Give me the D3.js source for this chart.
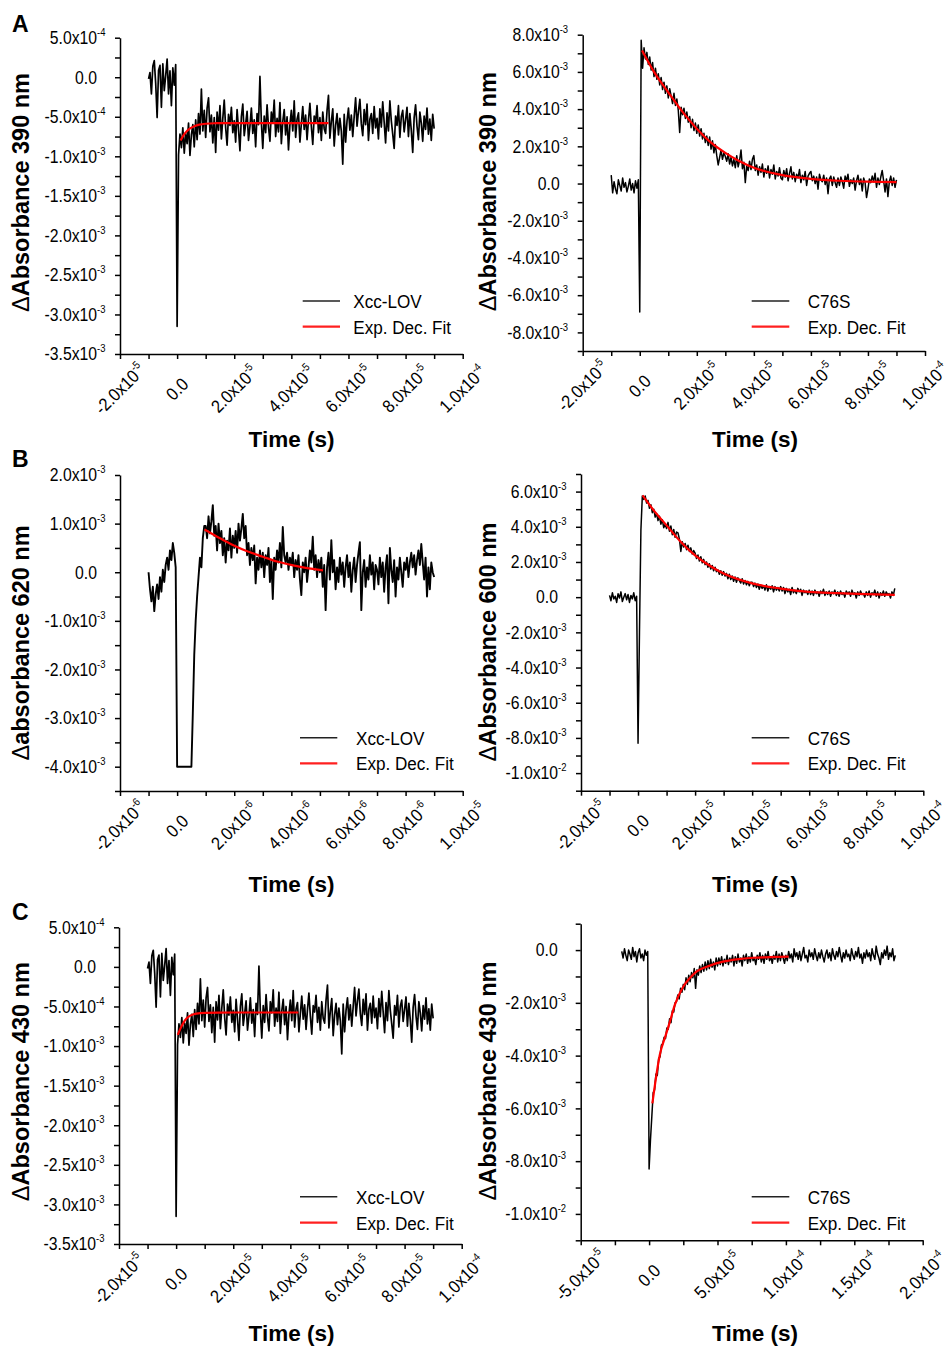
<!DOCTYPE html>
<html>
<head>
<meta charset="utf-8">
<script src="https://cdn.jsdelivr.net/npm/d3@7"></script>
<style>
  body { margin: 0; background: #fff; }
  svg text { font-family: "Liberation Sans", Arial, Helvetica, sans-serif; fill: #000; }
</style>
</head>
<body>
<svg id="fig" width="952" height="1348"></svg>
<script>

// ---- tick values ----
const timeTicks20us = [-2e-5, 0, 2e-5, 4e-5, 6e-5, 8e-5, 1e-4];
const timeTicks2us = [-2e-6, 0, 2e-6, 4e-6, 6e-6, 8e-6, 1e-5];
const timeTicks50us = [-5e-5, 0, 5e-5, 1e-4, 1.5e-4, 2e-4];
const absTicksXcc = [5e-4, 0, -5e-4, -1e-3, -1.5e-3, -2e-3, -2.5e-3, -3e-3, -3.5e-3];
const absTicksC76S390 = [8e-3, 6e-3, 4e-3, 2e-3, 0, -2e-3, -4e-3, -6e-3, -8e-3];
const absTicksXcc620 = [2e-3, 1e-3, 0, -1e-3, -2e-3, -3e-3, -4e-3];
const absTicksC76S600 = [6e-3, 4e-3, 2e-3, 0, -2e-3, -4e-3, -6e-3, -8e-3, -1e-2];
const absTicksC76S430 = [0, -2e-3, -4e-3, -6e-3, -8e-3, -1e-2];

// ---- Xcc-LOV trace, 390 nm (A) and 430 nm (C), units 1e-4 ----
const xccLovStart = -1.0e-5, xccLovStep = 0.05e-5;
const xccLovTrace = [
  -0.2, 0.6, -2.1, 1.4, 2.1, -0.8, -5.1, 0.9, 1.5, -3.8, 1.7, -1.7, 0.2, 2.3, -2.1, 0.8, -3.6, 1.2, -1.0, 1.6,
  -31.5, -9.8, -7.2, -8.9, -6.4, -9.6, -7.1, -8.4, -5.8, -9.9, -7.3, -6.0, -8.8, -5.4, -7.9, -4.6, -7.2, -1.5, -6.8, -4.2,
  -7.6, -3.9, -2.6, -6.9, -4.8, -8.3, -5.1, -9.5, -4.4, -6.7, -3.6, -7.8, -5.2, -2.9, -6.4, -8.6, -4.7, -6.1, -3.8, -7.0,
  -5.5, -8.2, -4.1, -6.6, -9.3, -5.0, -3.4, -7.4, -5.9, -4.3, -8.0, -6.2, -3.9, -7.1, -5.4, -8.8, -4.6, -6.0, 0.1, -5.7,
  -9.0, -4.9, -7.0, -3.5, -6.3, -8.1, -4.4, -5.8, -2.9, -7.5, -5.2, -6.9, -3.2, -8.4, -5.6, -4.1, -7.3, -5.0, -9.2, -6.0,
  -4.2, -6.8, -3.0, -7.6, -5.3, -4.5, -8.2, -5.9, -3.7, -6.6, -4.8, -7.9, -5.4, -3.3, -6.2, -8.5, -4.9, -5.7, -3.6, -7.0,
  -5.1, -8.0, -4.4, -6.5, -7.1, -4.2, -2.3, -7.7, -5.6, -4.0, -8.7, -6.1, -4.6, -7.3, -5.2, -6.8, -11.0, -4.7, -8.2, -5.5,
  -3.9, -6.7, -4.8, -7.5, -5.0, -2.6, -6.2, -4.3, -2.8, -5.9, -7.4, -4.1, -6.0, -3.4, -8.0, -5.3, -4.6, -7.1, -3.7, -6.4,
  -5.2, -7.8, -4.0, -6.3, -3.1, -5.7, -8.3, -4.5, -6.8, -3.0, -5.5, -7.2, -9.0, -4.9, -6.1, -3.6, -7.6, -5.0, -4.2, -6.9,
  -5.4, -3.8, -7.5, -4.6, -6.7, -9.5, -5.1, -3.5, -6.2, -7.9, -4.4, -5.8, -8.1, -4.9, -6.6, -3.9, -7.2, -5.3, -8.0, -4.7,
  -6.5
];
const xccLov390FitT = [0.12, 0.25, 0.44, 0.6, 0.78, 1.0, 1.3, 2.0, 3.0, 5.3];          // 1e-5 s
const xccLov390FitV = [-8.0, -7.2, -6.5, -6.2, -6.0, -5.88, -5.82, -5.8, -5.8, -5.8];  // 1e-4
const xccLov430FitT = [0.06, 0.15, 0.25, 0.37, 0.5, 0.72, 1.0, 1.5, 2.5, 4.28];
const xccLov430FitV = [-8.6, -7.8, -7.1, -6.5, -6.15, -5.9, -5.8, -5.77, -5.76, -5.76];

// ---- Xcc-LOV trace, 620 nm (B), units 1e-3 ----
const xccLov620Start = -1.0e-6, xccLov620Step = 0.05e-6;
const xccLov620Trace = [
  0.0, -0.35, -0.6, -0.3, -0.8, -0.45, -0.25, -0.55, -0.1, -0.4, 0.05, -0.2, 0.15, 0.3, 0.05, 0.45, 0.25, 0.6, 0.4, 0.1,
  -4.0, -4.0, -4.0, -4.0, -4.0, -4.0, -4.0, -4.0, -4.0, -4.0, -4.0, -2.9, -1.7, -1.0, -0.5, -0.1, 0.3, 0.1, 0.7, 0.95,
  0.95, 0.7, 1.15, 0.8, 1.05, 1.38, 0.75, 0.95, 0.45, 1.0, 0.6, 0.85, 0.35, 0.7, 0.2, 0.65, 0.45, 0.9, 0.3, 0.75,
  0.5, 0.85, 0.4, 1.0, 0.65, 0.9, 1.2, 0.7, 0.95, 0.35, 0.6, 0.15, 0.5, 0.25, 0.55, -0.23, 0.3, 0.05, 0.45, 0.1,
  0.4, -0.1, 0.35, 0.15, 0.5, -0.2, 0.25, -0.55, 0.3, 0.05, 0.45, 0.2, 0.6, 0.1, 0.93, 0.35, 0.2, 0.4, 0.05, 0.3,
  0.15, 0.4, -0.1, 0.25, 0.05, 0.35, -0.15, -0.47, 0.2, 0.0, 0.3, -0.2, 0.1, 0.45, 0.2, 0.73, 0.05, 0.35, -0.1, 0.25,
  0.0, 0.3, -0.3, 0.15, -0.78, 0.1, 0.4, -0.15, 0.66, 0.0, 0.25, -0.35, 0.1, -0.2, 0.3, -0.05, 0.2, -0.3, 0.1, 0.35,
  -0.1, 0.2, -0.4, 0.05, 0.3, -0.2, 0.15, 0.4, 0.62, -0.78, 0.0, 0.25, -0.3, 0.1, -0.15, 0.35, -0.05, 0.2, -0.35, 0.15,
  0.05, -0.25, 0.3, -0.1, 0.2, -0.4, 0.1, 0.35, -0.64, 0.5, 0.05, -0.2, 0.25, -0.5, 0.1, -0.15, 0.3, 0.0, -0.3, 0.2,
  0.05, 0.3, -0.1, 0.2, 0.4, 0.1, 0.35, -0.05, 0.25, 0.45, 0.15, 0.58, 0.2, -0.15, 0.3, -0.5, 0.1, -0.35, 0.2, 0.0,
  -0.1
];
const xccLov620FitT = [0.96, 1.5, 1.95, 2.5, 3.0, 3.5, 4.06, 4.5, 5.11];          // 1e-6 s
const xccLov620FitV = [0.88, 0.7, 0.56, 0.42, 0.32, 0.22, 0.14, 0.09, 0.04];      // 1e-3

// ---- C76S trace, 390 nm (A), units 1e-3 ----
const c76s390Start = -1.0e-5, c76s390Step = 0.05e-5;
const c76s390Trace = [
  0.45, -0.5, 0.1, -0.3, -0.55, 0.2, -0.1, -0.4, 0.3, -0.2, 0.05, -0.45, -0.15, 0.25, -0.35, 0.0, -0.5, 0.15, -0.25, 0.2,
  -6.9, 7.7, 6.2, 7.3, 6.7, 7.05, 6.4, 6.8, 6.1, 6.5, 5.75, 6.2, 5.6, 5.9, 5.3, 5.7, 5.05, 5.45, 4.85, 5.25,
  4.6, 5.1, 4.7, 4.3, 4.85, 4.2, 4.55, 3.95, 2.75, 4.1, 3.7, 4.05, 3.5, 3.85, 3.3, 3.6, 3.0, 3.45, 2.85, 3.25,
  2.7, 3.15, 2.55, 2.95, 2.4, 2.7, 2.2, 2.55, 2.05, 2.5, 1.85, 2.3, 1.65, 2.1, 1.5, 1.0, 1.4, 1.8, 1.3, 1.65,
  1.45, 1.2, 1.6, 1.05, 1.4, 0.95, 1.3, 0.85, 1.5, 0.9, 1.25, 1.8, 0.8, 1.15, 0.05, 0.95, 0.7, 1.2, 0.75, 1.3,
  1.5, 0.7, 1.0, 0.45, 0.9, 0.6, 1.05, 0.35, 0.8, 0.55, 0.95, 0.3, 0.75, 0.5, 1.0, 0.25, 0.65, 0.4, 0.85, 0.3,
  0.2, 0.7, 0.35, 0.8, 0.15, 0.55, 0.9, 0.25, 0.6, 0.1, 0.5, 0.3, 0.75, 0.05, 0.45, 0.2, 0.65, -0.1, 0.4, 0.55,
  0.65, 0.15, 0.4, 0.0, 0.35, -0.3, 0.5, 0.2, 0.1, 0.45, -0.05, 0.3, -0.55, 0.25, 0.4, -0.1, 0.35, 0.05, -0.2, 0.3,
  -0.1, 0.35, 0.1, -0.25, 0.4, 0.15, 0.5, -0.15, 0.2, 0.0, 0.3, -0.35, 0.15, 0.45, -0.05, 0.25, -0.4, 0.3, 0.05, -0.75,
  -0.3, 0.25, 0.05, 0.4, 0.1, 0.55, -0.2, 0.3, -0.05, 0.35, 0.7, 0.15, -0.45, 0.25, -0.7, 0.1, 0.4, -0.1, 0.3, -0.2,
  0.2
];
const c76s390FitT = [0.08, 0.5, 1, 1.5, 2, 2.5, 3, 3.5, 4, 5, 6, 7, 8, 9];               // 1e-5 s
const c76s390FitV = [7.15, 6.0, 4.9, 3.85, 2.95, 2.2, 1.65, 1.2, 0.85, 0.45, 0.25, 0.15, 0.1, 0.08]; // 1e-3

// ---- C76S trace, 600 nm (B), units 1e-3 ----
const c76s600Start = -1.0e-5, c76s600Step = 0.05e-5;
const c76s600Trace = [
  0.1, -0.2, 0.25, -0.1, 0.05, -0.3, 0.2, -0.05, 0.3, -0.25, 0.0, 0.2, -0.15, 0.15, -0.3, 0.1, -0.1, 0.25, -0.2, 0.05,
  -8.3, -2.0, 3.8, 5.75, 5.55, 5.75, 5.35, 5.5, 5.05, 5.25, 4.8, 5.0, 4.55, 4.75, 4.35, 4.6, 4.15, 4.4, 3.95, 4.15,
  3.9, 4.25, 3.75, 4.05, 3.55, 3.85, 3.4, 3.7, 3.65, 3.3, 2.6, 3.15, 2.85, 3.05, 2.7, 2.95, 2.6, 2.8, 2.45, 2.65,
  2.5, 2.2, 2.4, 2.05, 2.3, 1.95, 2.15, 1.85, 2.0, 1.7, 1.9, 1.6, 1.8, 1.5, 1.7, 1.45, 1.55, 1.3, 1.5, 1.25,
  1.45, 1.2, 1.35, 1.05, 1.3, 1.0, 1.2, 0.9, 1.15, 0.85, 1.1, 0.95, 0.8, 1.05, 0.75, 0.95, 0.7, 0.9, 0.65, 0.85,
  0.85, 0.6, 0.8, 0.55, 0.75, 0.45, 0.7, 0.5, 0.65, 0.4, 0.7, 0.35, 0.6, 0.45, 0.65, 0.3, 0.6, 0.4, 0.55, 0.35,
  0.6, 0.35, 0.55, 0.2, 0.5, 0.3, 0.45, 0.15, 0.55, 0.25, 0.4, 0.2, 0.5, 0.3, 0.45, 0.1, 0.4, 0.25, 0.35, 0.15,
  0.4, 0.15, 0.35, 0.1, 0.4, 0.2, 0.3, 0.05, 0.35, 0.2, 0.45, 0.1, 0.3, 0.15, 0.35, 0.05, 0.3, 0.2, 0.4, 0.1,
  0.3, 0.05, 0.35, 0.15, 0.25, 0.0, 0.35, 0.2, 0.3, 0.05, 0.4, 0.15, 0.25, -0.05, 0.3, 0.1, 0.35, 0.15, 0.2, 0.0,
  0.3, 0.1, 0.35, 0.0, 0.25, 0.15, 0.4, 0.05, 0.3, -0.05, 0.25, 0.1, 0.35, 0.05, 0.3, 0.15, 0.2, -0.05, 0.3, 0.1,
  0.5
];
const c76s600FitT = [0.16, 0.55, 1, 1.5, 2, 2.5, 3, 4, 5, 6, 7, 8, 9];
const c76s600FitV = [5.78, 4.93, 4.08, 3.14, 2.38, 1.8, 1.34, 0.78, 0.49, 0.3, 0.23, 0.17, 0.13];

// ---- C76S trace, 430 nm (C), units 1e-3 ----
const c76s430Start = -2.0e-5, c76s430Step = 0.1e-5;
const c76s430Trace = [
  -0.05, -0.3, 0.05, -0.2, -0.4, 0.0, -0.15, -0.35, 0.1, -0.25, -0.05, -0.45, -0.1, 0.05, -0.3, -0.15, -0.4, 0.0, -0.2, -0.05,
  -8.3, -7.2, -6.3, -5.4, -5.3, -4.7, -4.75, -4.1, -4.05, -3.6,
  -3.55, -3.3, -3.35, -2.95, -3.0, -2.6, -2.75, -2.3, -2.35, -2.0,
  -1.95, -1.7, -1.85, -1.45, -1.6, -1.3, -1.5, -1.05, -1.3, -0.95,
  -1.2, -0.85, -1.05, -0.7, -1.45, -0.75, -0.95, -0.6, -0.85, -0.55,
  -0.8, -0.45, -0.75, -0.4, -0.7, -0.35, -0.65, -0.45, -0.75, -0.3,
  -0.6, -0.3, -0.55, -0.25, -0.6, -0.35, -0.5, -0.2, -0.55, -0.3,
  -0.45, -0.2, -0.6, -0.25, -0.5, -0.15, -0.45, -0.3, -0.6, -0.2,
  -0.4, -0.15, -0.5, -0.25, -0.45, -0.1, -0.4, -0.3, -0.55, -0.2,
  -0.35, -0.1, -0.45, -0.2, -0.5, -0.15, -0.35, -0.05, -0.4, -0.25,
  -0.5, -0.2, -0.35, -0.05, -0.45, -0.15, -0.4, -0.1, -0.3, -0.5,
  -0.2, -0.4, -0.05, -0.3, -0.15, -0.45, 0.05, -0.25, -0.1, -0.35,
  -0.05, -0.4, -0.15, 0.1, -0.3, -0.2, -0.45, 0.0, -0.25, -0.1,
  -0.35, 0.05, -0.2, -0.4, -0.1, -0.3, 0.0, -0.25, -0.45, -0.15,
  0.0, -0.3, -0.1, -0.4, 0.05, -0.2, -0.35, -0.05, -0.25, 0.1,
  -0.2, -0.45, -0.1, -0.3, 0.0, -0.25, -0.15, -0.4, 0.05, -0.2,
  -0.35, -0.05, -0.25, 0.1, -0.3, -0.15, -0.5, -0.1, -0.3, 0.0,
  -0.25, -0.1, -0.4, 0.05, -0.2, -0.35, 0.15, -0.15, -0.3, -0.55,
  -0.1, -0.3, 0.0, -0.2, 0.15, -0.35, -0.1, -0.25, 0.05, -0.4,
  -0.2
];
const c76s430FitT = [0.24, 0.5, 0.78, 1.2, 1.5, 1.88, 2.49, 3.0, 3.46, 4.44, 5.4, 6.4, 7.6, 8.8, 10.2];
const c76s430FitV = [-5.81, -4.85, -3.98, -3.25, -2.75, -2.08, -1.39, -1.05, -0.82, -0.59, -0.44, -0.35, -0.29, -0.27, -0.25];

// ---- panel layout ----
const panels = [
  { letter: "A", letterY: 31.7, left: 120, right: 462.7, top: 37.7, bottom: 354,
    xDomain: [-2e-5, 1e-4], xTicks: timeTicks20us, yDomain: [-3.5e-3, 5e-4], yTicks: absTicksXcc,
    yTitle: "Absorbance 390 nm", titleX: 28.5, titleY: 192.5, timeX: 291.5, timeY: 447,
    trace: xccLovTrace, t0: xccLovStart, dt: xccLovStep, vUnit: 1e-4, lw: 1.7,
    fitT: xccLov390FitT, fitV: xccLov390FitV, fitTUnit: 1e-5,
    name: "Xcc-LOV", legX: [302.7, 340], legY: [301, 326.7], legText: 353.3 },
  { left: 582.7, right: 925, top: 34.7, bottom: 351,
    xDomain: [-2e-5, 1e-4], xTicks: timeTicks20us, yDomain: [-9e-3, 8e-3], yTicks: absTicksC76S390,
    yTitle: "Absorbance 390 nm", titleX: 496, titleY: 191.7, timeX: 755, timeY: 447,
    trace: c76s390Trace, t0: c76s390Start, dt: c76s390Step, vUnit: 1e-3, lw: 1.5,
    fitT: c76s390FitT, fitV: c76s390FitV, fitTUnit: 1e-5,
    name: "C76S", legX: [751.7, 789.3], legY: [301, 326.7], legText: 807.7 },
  { letter: "B", letterY: 466.7, left: 120, right: 462.7, top: 475, bottom: 791,
    xDomain: [-2e-6, 1e-5], xTicks: timeTicks2us, yDomain: [-4.5e-3, 2e-3], yTicks: absTicksXcc620,
    yTitle: "absorbance 620 nm", titleX: 28.5, titleY: 643, timeX: 291.5, timeY: 892,
    trace: xccLov620Trace, t0: xccLov620Start, dt: xccLov620Step, vUnit: 1e-3, lw: 1.9,
    fitT: xccLov620FitT, fitV: xccLov620FitV, fitTUnit: 1e-6,
    name: "Xcc-LOV", legX: [300, 337.3], legY: [737.7, 763.3], legText: 356 },
  { left: 581, right: 923.3, top: 474, bottom: 790.7,
    xDomain: [-2e-5, 1e-4], xTicks: timeTicks20us, yDomain: [-1.1e-2, 7e-3], yTicks: absTicksC76S600,
    yTitle: "Absorbance 600 nm", titleX: 496, titleY: 642, timeX: 755, timeY: 892,
    trace: c76s600Trace, t0: c76s600Start, dt: c76s600Step, vUnit: 1e-3, lw: 1.5,
    fitT: c76s600FitT, fitV: c76s600FitV, fitTUnit: 1e-5,
    name: "C76S", legX: [751.7, 789.3], legY: [737.7, 763.3], legText: 807.7 },
  { letter: "C", letterY: 919.5, left: 119, right: 461.7, top: 927.3, bottom: 1244,
    xDomain: [-2e-5, 1e-4], xTicks: timeTicks20us, yDomain: [-3.5e-3, 5e-4], yTicks: absTicksXcc,
    yTitle: "Absorbance 430 nm", titleX: 28.5, titleY: 1081.7, timeX: 291.5, timeY: 1341,
    trace: xccLovTrace, t0: xccLovStart, dt: xccLovStep, vUnit: 1e-4, lw: 1.7,
    fitT: xccLov430FitT, fitV: xccLov430FitV, fitTUnit: 1e-5,
    name: "Xcc-LOV", legX: [300, 337.3], legY: [1196.7, 1222.7], legText: 356 },
  { left: 580.7, right: 922.7, top: 923.7, bottom: 1240.3,
    xDomain: [-5e-5, 2e-4], xTicks: timeTicks50us, yDomain: [-1.1e-2, 1e-3], yTicks: absTicksC76S430,
    yTitle: "Absorbance 430 nm", titleX: 496, titleY: 1081, timeX: 755, timeY: 1341,
    trace: c76s430Trace, t0: c76s430Start, dt: c76s430Step, vUnit: 1e-3, lw: 1.5,
    fitT: c76s430FitT, fitV: c76s430FitV, fitTUnit: 1e-5,
    name: "C76S", legX: [751.7, 789.3], legY: [1196.7, 1222.7], legText: 807.7 }
];

const svg = d3.select("#fig");

// "5.0x10" + exponent, Origin style
const sciParts = v => {
  if (Math.abs(v) < 1e-15) return ["0.0", null];
  const e = Math.floor(Math.log10(Math.abs(v)) + 1e-9);
  const m = Math.round(v / Math.pow(10, e) * 10) / 10;
  return [m.toFixed(1) + "x10", String(e)];
};

// major + minor ticks (minor halfway between majors)
const withMinor = (majors, domain) => {
  const step = Math.abs(majors[1] - majors[0]) / 2;
  const lo = Math.min(...domain), hi = Math.max(...domain);
  const start = majors[0] - Math.floor((majors[0] - lo) / step + 1e-6) * step;
  const out = [];
  for (let v = start; v <= hi + step * 1e-3; v += step) out.push(v);
  return out;
};

const drawPanel = p => {
  const x = d3.scaleLinear().domain(p.xDomain).range([p.left, p.right]);
  const y = d3.scaleLinear().domain(p.yDomain).range([p.bottom, p.top]);
  const g = svg.append("g");

  // axes
  g.append("g")
      .attr("transform", `translate(0,${p.bottom})`)
      .call(d3.axisBottom(x).tickValues(withMinor(p.xTicks, p.xDomain)).tickSize(5).tickSizeOuter(0).tickFormat(""))
      .call(a => a.selectAll("path, line").attr("stroke", "#000").attr("stroke-width", 1.5));
  g.append("g")
      .attr("transform", `translate(${p.left},0)`)
      .call(d3.axisLeft(y).tickValues(withMinor(p.yTicks, p.yDomain)).tickSize(5).tickSizeOuter(0).tickFormat(""))
      .call(a => a.selectAll("path, line").attr("stroke", "#000").attr("stroke-width", 1.5));

  // y tick labels (slightly condensed, like the original)
  p.yTicks.forEach(v => {
    const [main, exp] = sciParts(v);
    const ty = y(v);
    g.append("text")
        .attr("transform", `translate(${p.left - 23},${ty + 6.3}) scale(0.9,1)`)
        .attr("text-anchor", "end")
        .attr("font-size", 17.5)
        .text(main);
    if (exp) {
      g.append("text")
          .attr("transform", `translate(${p.left - 23},${ty - 1.8}) scale(0.9,1)`)
          .attr("font-size", 10.5)
          .text(exp);
    }
  });

  // x tick labels, rotated
  p.xTicks.forEach(v => {
    const [main, exp] = sciParts(v);
    const t = g.append("text")
        .attr("transform", `translate(${x(v)},${p.bottom + 35}) rotate(-45) scale(0.9,1)`)
        .attr("text-anchor", "middle")
        .attr("font-size", 18);
    t.append("tspan").attr("dy", 6.3).text(main);
    if (exp) t.append("tspan").attr("dy", -8).attr("font-size", 11).text(exp);
  });

  // titles
  g.append("text")
      .attr("x", p.timeX)
      .attr("y", p.timeY)
      .attr("text-anchor", "middle")
      .attr("font-size", 22.5)
      .attr("font-weight", "bold")
      .text("Time (s)");
  const yt = g.append("text")
      .attr("transform", `translate(${p.titleX},${p.titleY}) rotate(-90)`)
      .attr("text-anchor", "middle")
      .attr("font-size", 23.5)
      .attr("font-weight", "bold");
  yt.append("tspan").attr("font-weight", "normal").text("Δ");
  yt.append("tspan").text(p.yTitle);

  if (p.letter) {
    svg.append("text")
        .attr("x", 12)
        .attr("y", p.letterY)
        .attr("font-size", 23)
        .attr("font-weight", "bold")
        .text(p.letter);
  }

  // data trace
  const pts = p.trace.map((v, i) => ({ t: p.t0 + i * p.dt, v: v * p.vUnit }));
  g.append("path")
      .datum(pts)
      .attr("fill", "none")
      .attr("stroke", "#000")
      .attr("stroke-width", p.lw)
      .attr("stroke-linejoin", "round")
      .attr("d", d3.line().x(d => x(d.t)).y(d => y(d.v)));

  // exponential fit
  const fit = p.fitT.map((t, i) => ({ t: t * p.fitTUnit, v: p.fitV[i] * p.vUnit }));
  g.append("path")
      .datum(fit)
      .attr("fill", "none")
      .attr("stroke", "#ff0000")
      .attr("stroke-width", 2.2)
      .attr("d", d3.line().curve(d3.curveMonotoneX).x(d => x(d.t)).y(d => y(d.v)));

  // legend
  const legend = [
    { label: p.name, color: "#222", width: 1.4 },
    { label: "Exp. Dec. Fit", color: "#ff2020", width: 2.2 }
  ];
  legend.forEach((d, i) => {
    g.append("line")
        .attr("x1", p.legX[0]).attr("x2", p.legX[1])
        .attr("y1", p.legY[i]).attr("y2", p.legY[i])
        .attr("stroke", d.color)
        .attr("stroke-width", d.width);
    g.append("text")
        .attr("transform", `translate(${p.legText},${p.legY[i] + 6.8}) scale(0.9,1)`)
        .attr("font-size", 19)
        .text(d.label);
  });
};

panels.forEach(drawPanel);

</script>
</body>
</html>
